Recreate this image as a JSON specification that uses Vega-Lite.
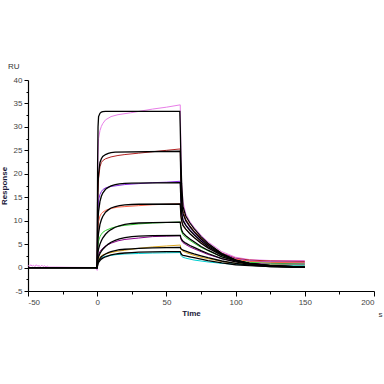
{
  "$schema": "https://vega.github.io/schema/vega-lite/v6.json",
  "width": 346,
  "height": 211,
  "autosize": "none",
  "padding": {"left": 28, "top": 80, "right": 10, "bottom": 93},
  "background": "white",
  "title": {"text": "RU", "anchor": "start", "frame": "group", "dx": -20, "offset": 5, "fontSize": 8, "font": "Liberation Sans", "fontWeight": "normal", "color": "#333"},
  "config": {
    "view": {"stroke": null},
    "axis": {"grid": false, "domainColor": "#000", "domainWidth": 1.2, "tickColor": "#000", "tickWidth": 1, "labelFont": "Liberation Sans", "labelFontSize": 8, "labelColor": "#444", "titleFont": "Liberation Sans", "titleFontSize": 8, "titleFontWeight": "bold", "titleColor": "#1a1a3a"}
  },
  "data": {"values": [
    {"s":"F1","t":-50,"v":0},{"s":"F1","t":0,"v":0},{"s":"F1","t":0.3,"v":22},{"s":"F1","t":0.6,"v":30},{"s":"F1","t":1,"v":32.2},{"s":"F1","t":2,"v":32.9},{"s":"F1","t":3,"v":33.15},{"s":"F1","t":4,"v":33.25},{"s":"F1","t":6,"v":33.3},{"s":"F1","t":59.7,"v":33.3},{"s":"F1","t":60,"v":30},{"s":"F1","t":60.5,"v":23},{"s":"F1","t":61,"v":18},{"s":"F1","t":62,"v":13},{"s":"F1","t":64,"v":11},{"s":"F1","t":67,"v":9.5},{"s":"F1","t":70,"v":8.3},{"s":"F1","t":75,"v":6.6},{"s":"F1","t":80,"v":5.2},{"s":"F1","t":90,"v":3.0},{"s":"F1","t":100,"v":1.6},{"s":"F1","t":110,"v":0.8},{"s":"F1","t":125,"v":0.3},{"s":"F1","t":150,"v":0.05},
    {"s":"F2","t":-50,"v":0},{"s":"F2","t":0,"v":0},{"s":"F2","t":0.3,"v":14},{"s":"F2","t":0.6,"v":18},{"s":"F2","t":1,"v":20},{"s":"F2","t":2,"v":22.4},{"s":"F2","t":3,"v":23.2},{"s":"F2","t":4,"v":23.7},{"s":"F2","t":6,"v":24.1},{"s":"F2","t":8,"v":24.35},{"s":"F2","t":10,"v":24.5},{"s":"F2","t":13,"v":24.6},{"s":"F2","t":60,"v":24.8},{"s":"F2","t":60.5,"v":18},{"s":"F2","t":61,"v":14},{"s":"F2","t":62,"v":11.5},{"s":"F2","t":64,"v":10},{"s":"F2","t":67,"v":8.7},{"s":"F2","t":70,"v":7.6},{"s":"F2","t":75,"v":6.1},{"s":"F2","t":80,"v":4.8},{"s":"F2","t":90,"v":2.9},{"s":"F2","t":100,"v":1.6},{"s":"F2","t":110,"v":0.9},{"s":"F2","t":125,"v":0.4},{"s":"F2","t":150,"v":0.1},
    {"s":"F3","t":-50,"v":0},{"s":"F3","t":0,"v":0},{"s":"F3","t":0.5,"v":10},{"s":"F3","t":1,"v":12},{"s":"F3","t":2,"v":14.1},{"s":"F3","t":3,"v":15.2},{"s":"F3","t":4,"v":15.9},{"s":"F3","t":6,"v":16.7},{"s":"F3","t":8,"v":17.1},{"s":"F3","t":10,"v":17.4},{"s":"F3","t":13,"v":17.7},{"s":"F3","t":16,"v":17.85},{"s":"F3","t":20,"v":17.95},{"s":"F3","t":25,"v":18.0},{"s":"F3","t":60,"v":18.1},{"s":"F3","t":60.5,"v":14},{"s":"F3","t":61,"v":11.5},{"s":"F3","t":62,"v":10},{"s":"F3","t":64,"v":9},{"s":"F3","t":67,"v":7.9},{"s":"F3","t":70,"v":7.0},{"s":"F3","t":75,"v":5.6},{"s":"F3","t":80,"v":4.5},{"s":"F3","t":90,"v":2.8},{"s":"F3","t":100,"v":1.6},{"s":"F3","t":110,"v":0.9},{"s":"F3","t":125,"v":0.4},{"s":"F3","t":150,"v":0.1},
    {"s":"F4","t":-50,"v":0},{"s":"F4","t":0,"v":0},{"s":"F4","t":0.5,"v":6},{"s":"F4","t":1,"v":7.4},{"s":"F4","t":2,"v":9.2},{"s":"F4","t":3,"v":10.2},{"s":"F4","t":4,"v":10.9},{"s":"F4","t":6,"v":11.8},{"s":"F4","t":8,"v":12.3},{"s":"F4","t":10,"v":12.7},{"s":"F4","t":13,"v":13.0},{"s":"F4","t":16,"v":13.2},{"s":"F4","t":20,"v":13.35},{"s":"F4","t":25,"v":13.45},{"s":"F4","t":30,"v":13.5},{"s":"F4","t":60,"v":13.55},{"s":"F4","t":60.5,"v":11},{"s":"F4","t":61,"v":10},{"s":"F4","t":62,"v":9},{"s":"F4","t":64,"v":8.2},{"s":"F4","t":67,"v":7.2},{"s":"F4","t":70,"v":6.4},{"s":"F4","t":75,"v":5.2},{"s":"F4","t":80,"v":4.2},{"s":"F4","t":90,"v":2.6},{"s":"F4","t":100,"v":1.5},{"s":"F4","t":110,"v":0.9},{"s":"F4","t":125,"v":0.4},{"s":"F4","t":150,"v":0.1},
    {"s":"F5","t":-50,"v":0},{"s":"F5","t":0,"v":0},{"s":"F5","t":0.5,"v":3.2},{"s":"F5","t":1,"v":4.0},{"s":"F5","t":2,"v":5.0},{"s":"F5","t":3,"v":5.7},{"s":"F5","t":4,"v":6.3},{"s":"F5","t":6,"v":7.1},{"s":"F5","t":8,"v":7.7},{"s":"F5","t":10,"v":8.1},{"s":"F5","t":13,"v":8.6},{"s":"F5","t":16,"v":8.9},{"s":"F5","t":20,"v":9.2},{"s":"F5","t":25,"v":9.4},{"s":"F5","t":30,"v":9.5},{"s":"F5","t":40,"v":9.6},{"s":"F5","t":60,"v":9.7},{"s":"F5","t":60.5,"v":8.6},{"s":"F5","t":61,"v":8},{"s":"F5","t":62,"v":7.4},{"s":"F5","t":64,"v":6.8},{"s":"F5","t":67,"v":6.1},{"s":"F5","t":70,"v":5.5},{"s":"F5","t":75,"v":4.5},{"s":"F5","t":80,"v":3.7},{"s":"F5","t":90,"v":2.3},{"s":"F5","t":100,"v":1.4},{"s":"F5","t":110,"v":0.8},{"s":"F5","t":125,"v":0.4},{"s":"F5","t":150,"v":0.1},
    {"s":"F6","t":-50,"v":0},{"s":"F6","t":0,"v":0},{"s":"F6","t":0.5,"v":1.8},{"s":"F6","t":1,"v":2.3},{"s":"F6","t":2,"v":3.0},{"s":"F6","t":3,"v":3.5},{"s":"F6","t":4,"v":3.9},{"s":"F6","t":6,"v":4.5},{"s":"F6","t":8,"v":5.0},{"s":"F6","t":10,"v":5.4},{"s":"F6","t":13,"v":5.8},{"s":"F6","t":16,"v":6.1},{"s":"F6","t":20,"v":6.4},{"s":"F6","t":25,"v":6.6},{"s":"F6","t":30,"v":6.7},{"s":"F6","t":40,"v":6.8},{"s":"F6","t":60,"v":6.85},{"s":"F6","t":60.5,"v":6.3},{"s":"F6","t":61,"v":6},{"s":"F6","t":62,"v":5.6},{"s":"F6","t":64,"v":5.2},{"s":"F6","t":67,"v":4.7},{"s":"F6","t":70,"v":4.3},{"s":"F6","t":75,"v":3.6},{"s":"F6","t":80,"v":3.0},{"s":"F6","t":90,"v":1.9},{"s":"F6","t":100,"v":1.2},{"s":"F6","t":110,"v":0.7},{"s":"F6","t":125,"v":0.3},{"s":"F6","t":150,"v":0.1},
    {"s":"F7","t":-50,"v":0},{"s":"F7","t":0,"v":0},{"s":"F7","t":0.5,"v":1.0},{"s":"F7","t":1,"v":1.4},{"s":"F7","t":2,"v":1.9},{"s":"F7","t":3,"v":2.3},{"s":"F7","t":4,"v":2.5},{"s":"F7","t":6,"v":2.9},{"s":"F7","t":8,"v":3.2},{"s":"F7","t":10,"v":3.4},{"s":"F7","t":13,"v":3.6},{"s":"F7","t":16,"v":3.8},{"s":"F7","t":20,"v":3.9},{"s":"F7","t":25,"v":4.0},{"s":"F7","t":30,"v":4.1},{"s":"F7","t":40,"v":4.2},{"s":"F7","t":50,"v":4.25},{"s":"F7","t":60,"v":4.3},{"s":"F7","t":60.5,"v":4.0},{"s":"F7","t":61,"v":3.9},{"s":"F7","t":62,"v":3.7},{"s":"F7","t":64,"v":3.5},{"s":"F7","t":67,"v":3.2},{"s":"F7","t":70,"v":2.9},{"s":"F7","t":75,"v":2.5},{"s":"F7","t":80,"v":2.1},{"s":"F7","t":90,"v":1.4},{"s":"F7","t":100,"v":0.9},{"s":"F7","t":110,"v":0.5},{"s":"F7","t":125,"v":0.2},{"s":"F7","t":150,"v":0.05},
    {"s":"F8","t":-50,"v":0},{"s":"F8","t":0,"v":0},{"s":"F8","t":0.5,"v":0.8},{"s":"F8","t":1,"v":1.1},{"s":"F8","t":2,"v":1.5},{"s":"F8","t":3,"v":1.8},{"s":"F8","t":4,"v":2.0},{"s":"F8","t":6,"v":2.3},{"s":"F8","t":8,"v":2.5},{"s":"F8","t":10,"v":2.7},{"s":"F8","t":13,"v":2.85},{"s":"F8","t":16,"v":3.0},{"s":"F8","t":20,"v":3.1},{"s":"F8","t":25,"v":3.2},{"s":"F8","t":30,"v":3.3},{"s":"F8","t":40,"v":3.35},{"s":"F8","t":50,"v":3.4},{"s":"F8","t":60,"v":3.4},{"s":"F8","t":60.5,"v":3.0},{"s":"F8","t":61,"v":2.8},{"s":"F8","t":62,"v":2.6},{"s":"F8","t":64,"v":2.5},{"s":"F8","t":67,"v":2.3},{"s":"F8","t":70,"v":2.1},{"s":"F8","t":75,"v":1.8},{"s":"F8","t":80,"v":1.5},{"s":"F8","t":90,"v":1.0},{"s":"F8","t":100,"v":0.6},{"s":"F8","t":110,"v":0.4},{"s":"F8","t":125,"v":0.2},{"s":"F8","t":150,"v":0.05},
    {"s":"D1","t":-50,"v":0.5},{"s":"D1","t":-49,"v":0.2},{"s":"D1","t":-48,"v":0.6},{"s":"D1","t":-47,"v":0.3},{"s":"D1","t":-46,"v":0.5},{"s":"D1","t":-45,"v":0.2},{"s":"D1","t":-44,"v":0.6},{"s":"D1","t":-43,"v":0.3},{"s":"D1","t":-42,"v":0.4},{"s":"D1","t":-41,"v":0.2},{"s":"D1","t":-40,"v":0.5},{"s":"D1","t":-39,"v":0.2},{"s":"D1","t":-38,"v":0.4},{"s":"D1","t":-37,"v":0.1},{"s":"D1","t":-36,"v":0.3},{"s":"D1","t":-35,"v":0.1},{"s":"D1","t":-30,"v":0.1},{"s":"D1","t":-20,"v":0.05},{"s":"D1","t":-1,"v":0},{"s":"D1","t":0,"v":-0.6},{"s":"D1","t":0.3,"v":18},{"s":"D1","t":0.6,"v":24},{"s":"D1","t":1,"v":27.5},{"s":"D1","t":2,"v":29.2},{"s":"D1","t":3,"v":30.1},{"s":"D1","t":4,"v":30.7},{"s":"D1","t":6,"v":31.5},{"s":"D1","t":10,"v":32.2},{"s":"D1","t":15,"v":32.6},{"s":"D1","t":24,"v":33.0},{"s":"D1","t":30,"v":33.3},{"s":"D1","t":40,"v":33.8},{"s":"D1","t":50,"v":34.2},{"s":"D1","t":60,"v":34.7},{"s":"D1","t":60.5,"v":25},{"s":"D1","t":61,"v":18},{"s":"D1","t":62,"v":14},{"s":"D1","t":64,"v":11.5},{"s":"D1","t":67,"v":9.8},{"s":"D1","t":70,"v":8.6},{"s":"D1","t":75,"v":6.9},{"s":"D1","t":80,"v":5.5},{"s":"D1","t":90,"v":3.4},{"s":"D1","t":100,"v":2.2},{"s":"D1","t":110,"v":1.7},{"s":"D1","t":125,"v":1.5},{"s":"D1","t":150,"v":1.5},
    {"s":"D2","t":-1,"v":0},{"s":"D2","t":0,"v":-0.3},{"s":"D2","t":0.3,"v":12},{"s":"D2","t":0.6,"v":16},{"s":"D2","t":1,"v":19},{"s":"D2","t":2,"v":21.5},{"s":"D2","t":3,"v":22.4},{"s":"D2","t":4,"v":22.8},{"s":"D2","t":6,"v":23.2},{"s":"D2","t":10,"v":23.6},{"s":"D2","t":15,"v":23.9},{"s":"D2","t":20,"v":24.1},{"s":"D2","t":30,"v":24.4},{"s":"D2","t":40,"v":24.7},{"s":"D2","t":50,"v":25.0},{"s":"D2","t":60,"v":25.3},{"s":"D2","t":60.5,"v":18},{"s":"D2","t":61,"v":14.5},{"s":"D2","t":62,"v":12},{"s":"D2","t":64,"v":10.3},{"s":"D2","t":67,"v":8.9},{"s":"D2","t":70,"v":7.8},{"s":"D2","t":75,"v":6.3},{"s":"D2","t":80,"v":5.0},{"s":"D2","t":90,"v":3.1},{"s":"D2","t":100,"v":2.0},{"s":"D2","t":110,"v":1.6},{"s":"D2","t":125,"v":1.4},{"s":"D2","t":150,"v":1.3},
    {"s":"D3","t":-1,"v":0},{"s":"D3","t":0,"v":-0.3},{"s":"D3","t":0.3,"v":9},{"s":"D3","t":0.6,"v":12.5},{"s":"D3","t":1,"v":14.4},{"s":"D3","t":2,"v":15.6},{"s":"D3","t":3,"v":16.2},{"s":"D3","t":4,"v":16.6},{"s":"D3","t":6,"v":17.0},{"s":"D3","t":10,"v":17.3},{"s":"D3","t":15,"v":17.5},{"s":"D3","t":20,"v":17.7},{"s":"D3","t":30,"v":17.9},{"s":"D3","t":40,"v":18.1},{"s":"D3","t":50,"v":18.2},{"s":"D3","t":60,"v":18.4},{"s":"D3","t":60.5,"v":14},{"s":"D3","t":61,"v":12},{"s":"D3","t":62,"v":10.3},{"s":"D3","t":64,"v":9.2},{"s":"D3","t":67,"v":8.1},{"s":"D3","t":70,"v":7.2},{"s":"D3","t":75,"v":5.8},{"s":"D3","t":80,"v":4.7},{"s":"D3","t":90,"v":3.0},{"s":"D3","t":100,"v":1.9},{"s":"D3","t":110,"v":1.4},{"s":"D3","t":125,"v":1.2},{"s":"D3","t":150,"v":1.1},
    {"s":"D4","t":-1,"v":0},{"s":"D4","t":0,"v":-0.3},{"s":"D4","t":0.3,"v":6},{"s":"D4","t":0.6,"v":8.5},{"s":"D4","t":1,"v":9.8},{"s":"D4","t":2,"v":11.0},{"s":"D4","t":3,"v":11.5},{"s":"D4","t":4,"v":11.8},{"s":"D4","t":6,"v":12.2},{"s":"D4","t":10,"v":12.6},{"s":"D4","t":15,"v":12.9},{"s":"D4","t":20,"v":13.0},{"s":"D4","t":30,"v":13.2},{"s":"D4","t":40,"v":13.4},{"s":"D4","t":50,"v":13.5},{"s":"D4","t":60,"v":13.6},{"s":"D4","t":60.5,"v":11},{"s":"D4","t":61,"v":9.8},{"s":"D4","t":62,"v":8.9},{"s":"D4","t":64,"v":8.1},{"s":"D4","t":67,"v":7.2},{"s":"D4","t":70,"v":6.4},{"s":"D4","t":75,"v":5.3},{"s":"D4","t":80,"v":4.3},{"s":"D4","t":90,"v":2.7},{"s":"D4","t":100,"v":1.8},{"s":"D4","t":110,"v":1.3},{"s":"D4","t":125,"v":1.1},{"s":"D4","t":150,"v":1.0},
    {"s":"D5","t":-1,"v":0},{"s":"D5","t":0,"v":-0.3},{"s":"D5","t":0.3,"v":3.5},{"s":"D5","t":0.6,"v":4.8},{"s":"D5","t":1,"v":5.6},{"s":"D5","t":2,"v":6.6},{"s":"D5","t":3,"v":7.1},{"s":"D5","t":4,"v":7.5},{"s":"D5","t":6,"v":7.9},{"s":"D5","t":10,"v":8.4},{"s":"D5","t":15,"v":8.8},{"s":"D5","t":20,"v":9.0},{"s":"D5","t":30,"v":9.3},{"s":"D5","t":40,"v":9.5},{"s":"D5","t":50,"v":9.6},{"s":"D5","t":60,"v":9.7},{"s":"D5","t":60.5,"v":8.3},{"s":"D5","t":61,"v":7.6},{"s":"D5","t":62,"v":7.0},{"s":"D5","t":64,"v":6.4},{"s":"D5","t":67,"v":5.8},{"s":"D5","t":70,"v":5.2},{"s":"D5","t":75,"v":4.3},{"s":"D5","t":80,"v":3.6},{"s":"D5","t":90,"v":2.3},{"s":"D5","t":100,"v":1.5},{"s":"D5","t":110,"v":1.1},{"s":"D5","t":125,"v":0.9},{"s":"D5","t":150,"v":0.8},
    {"s":"D6","t":-1,"v":0},{"s":"D6","t":0,"v":-0.3},{"s":"D6","t":0.3,"v":1.6},{"s":"D6","t":0.6,"v":2.3},{"s":"D6","t":1,"v":2.8},{"s":"D6","t":2,"v":3.4},{"s":"D6","t":3,"v":3.8},{"s":"D6","t":4,"v":4.1},{"s":"D6","t":6,"v":4.6},{"s":"D6","t":10,"v":5.2},{"s":"D6","t":15,"v":5.7},{"s":"D6","t":20,"v":6.0},{"s":"D6","t":30,"v":6.3},{"s":"D6","t":40,"v":6.6},{"s":"D6","t":50,"v":6.7},{"s":"D6","t":60,"v":6.8},{"s":"D6","t":60.5,"v":6.1},{"s":"D6","t":61,"v":5.7},{"s":"D6","t":62,"v":5.3},{"s":"D6","t":64,"v":4.9},{"s":"D6","t":67,"v":4.4},{"s":"D6","t":70,"v":4.0},{"s":"D6","t":75,"v":3.4},{"s":"D6","t":80,"v":2.8},{"s":"D6","t":90,"v":1.9},{"s":"D6","t":100,"v":1.3},{"s":"D6","t":110,"v":0.9},{"s":"D6","t":125,"v":0.7},{"s":"D6","t":150,"v":0.7},
    {"s":"D7","t":-1,"v":0},{"s":"D7","t":0,"v":-0.3},{"s":"D7","t":0.3,"v":1.0},{"s":"D7","t":0.6,"v":1.5},{"s":"D7","t":1,"v":1.8},{"s":"D7","t":2,"v":2.2},{"s":"D7","t":3,"v":2.5},{"s":"D7","t":4,"v":2.7},{"s":"D7","t":6,"v":2.9},{"s":"D7","t":10,"v":3.2},{"s":"D7","t":15,"v":3.5},{"s":"D7","t":20,"v":3.7},{"s":"D7","t":30,"v":4.1},{"s":"D7","t":40,"v":4.4},{"s":"D7","t":50,"v":4.6},{"s":"D7","t":60,"v":4.8},{"s":"D7","t":60.5,"v":4.0},{"s":"D7","t":61,"v":3.7},{"s":"D7","t":62,"v":3.5},{"s":"D7","t":64,"v":3.2},{"s":"D7","t":67,"v":2.9},{"s":"D7","t":70,"v":2.6},{"s":"D7","t":75,"v":2.2},{"s":"D7","t":80,"v":1.9},{"s":"D7","t":90,"v":1.3},{"s":"D7","t":100,"v":0.9},{"s":"D7","t":110,"v":0.7},{"s":"D7","t":125,"v":0.6},{"s":"D7","t":150,"v":0.5},
    {"s":"D8","t":-1,"v":0},{"s":"D8","t":0,"v":-0.3},{"s":"D8","t":0.3,"v":0.8},{"s":"D8","t":0.6,"v":1.3},{"s":"D8","t":1,"v":1.5},{"s":"D8","t":2,"v":1.8},{"s":"D8","t":3,"v":2.0},{"s":"D8","t":4,"v":2.2},{"s":"D8","t":6,"v":2.4},{"s":"D8","t":10,"v":2.6},{"s":"D8","t":15,"v":2.8},{"s":"D8","t":20,"v":2.9},{"s":"D8","t":30,"v":3.0},{"s":"D8","t":40,"v":3.1},{"s":"D8","t":50,"v":3.15},{"s":"D8","t":60,"v":3.2},{"s":"D8","t":60.5,"v":2.6},{"s":"D8","t":61,"v":2.4},{"s":"D8","t":62,"v":2.2},{"s":"D8","t":64,"v":2.0},{"s":"D8","t":67,"v":1.8},{"s":"D8","t":70,"v":1.6},{"s":"D8","t":75,"v":1.4},{"s":"D8","t":80,"v":1.2},{"s":"D8","t":90,"v":0.9},{"s":"D8","t":100,"v":0.7},{"s":"D8","t":110,"v":0.6},{"s":"D8","t":125,"v":0.5},{"s":"D8","t":150,"v":0.5}
  ]},
  "encoding": {
    "x": {"field": "t", "type": "quantitative", "scale": {"domain": [-50, 200], "nice": false, "zero": false},
      "axis": {"title": "Time", "titleX": 163, "titlePadding": 3, "values": [-50,-25,0,25,50,75,100,125,150,175,200],
        "labelExpr": "datum.value % 50 === 0 ? '' + datum.value : ''",
        "tickSize": {"condition": {"test": "datum.value % 50 !== 0", "value": 3}, "value": 5}, "labelPadding": 2}},
    "y": {"field": "v", "type": "quantitative", "scale": {"domain": [-5, 40], "nice": false, "zero": false},
      "axis": {"title": "Response", "titlePadding": 5, "values": [-5,-2.5,0,2.5,5,7.5,10,12.5,15,17.5,20,22.5,25,27.5,30,32.5,35,37.5,40],
        "labelExpr": "datum.value % 5 === 0 ? '' + datum.value : ''",
        "tickSize": {"condition": {"test": "datum.value % 5 !== 0", "value": 2}, "value": 4}, "labelPadding": 2}},
    "color": {"field": "s", "type": "nominal", "legend": null,
      "scale": {"domain": ["D1","D2","D3","D4","D5","D6","D7","D8","F1","F2","F3","F4","F5","F6","F7","F8"],
        "range": ["#e87ee8","#b22222","#8a2be2","#ff6347","#32cd32","#8b008b","#daa520","#00ced1","#000000","#000000","#000000","#000000","#000000","#000000","#000000","#000000"]}}
  },
  "layer": [
    {"transform": [{"filter": "substring(datum.s, 0, 1) === 'D'"}], "mark": {"type": "line", "strokeWidth": 1}},
    {"transform": [{"filter": "substring(datum.s, 0, 1) === 'F'"}], "mark": {"type": "line", "strokeWidth": 1.3},
      "encoding": {"x": {"field": "t", "type": "quantitative", "scale": {"domain": [-50, 200], "nice": false, "zero": false},
        "axis": {"orient": "bottom", "title": "s", "domain": false, "ticks": false, "labels": false, "titleFontWeight": "normal", "titleColor": "#333", "titleX": 352, "titleY": 19, "titleAlign": "center"}}}}
  ],
  "resolve": {"axis": {"x": "independent"}}
}
